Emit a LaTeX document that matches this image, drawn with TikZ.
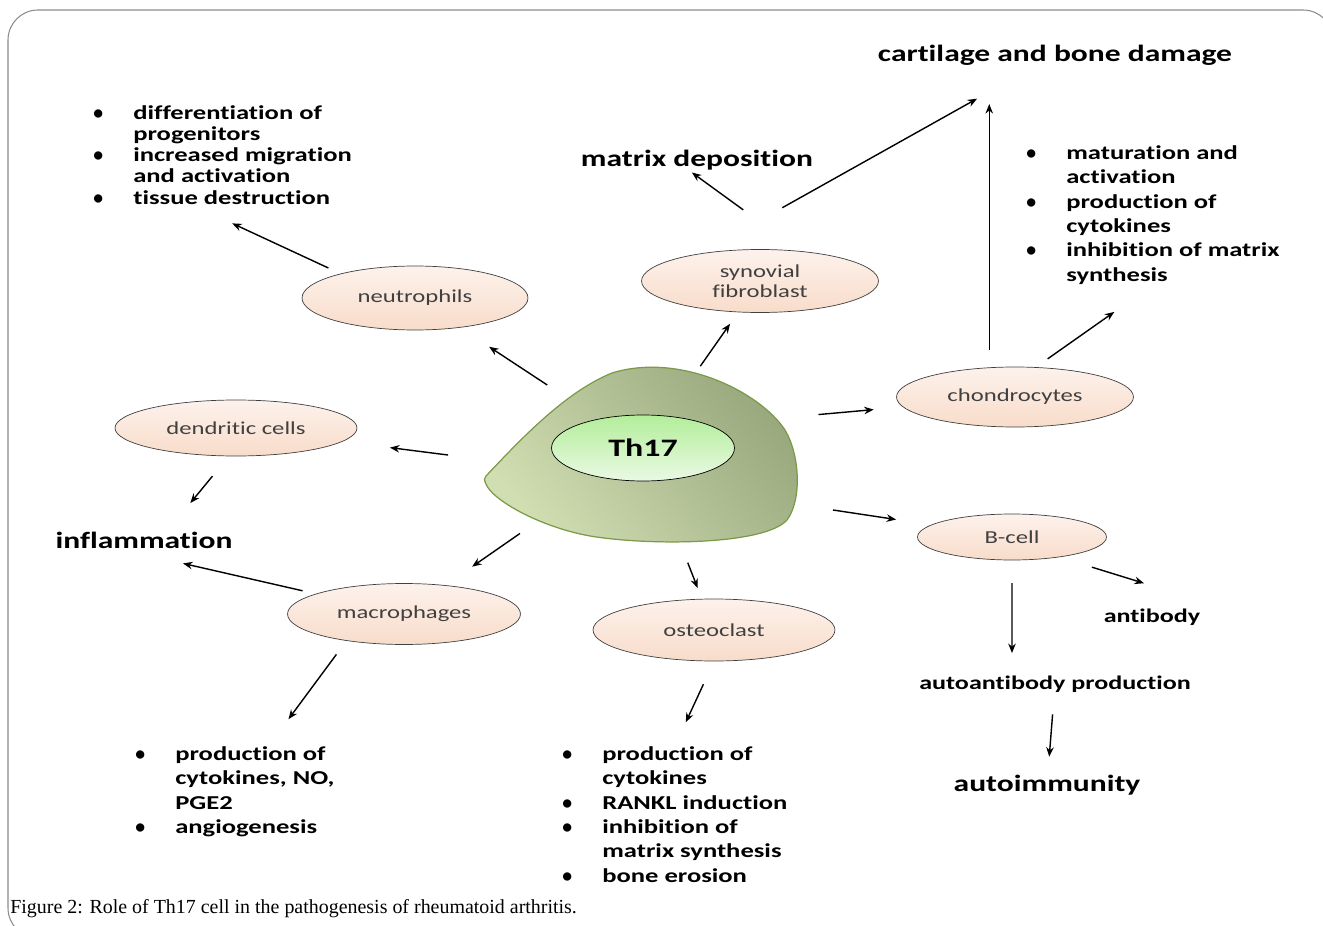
\documentclass[tikz,border=0pt]{standalone}
\usepackage{fontspec}
\setmainfont{Carlito}
\newfontfamily\widefont{Carlito}[FakeStretch=1.35, Ligatures=NoCommon]
\newfontfamily\capfont{Liberation Serif}
\usetikzlibrary{arrows.meta,calc,positioning,shapes.geometric}

\definecolor{peachtop}{HTML}{FDF2EC}
\definecolor{peachbot}{HTML}{F8DCCA}
\definecolor{blobdark}{HTML}{97A77B}
\definecolor{bloblight}{HTML}{D0DEB2}
\definecolor{blobline}{HTML}{7A9A48}
\definecolor{nuctop}{HTML}{B3EE9A}
\definecolor{nucbot}{HTML}{EAF9E4}

\newcommand{\bul}{\makebox[0.8cm][l]{\rmfamily\textbullet}}
\newcommand{\ind}{\hspace*{0.8cm}}

\tikzset{
  cell/.style={ellipse, draw=black!75, thin, top color=peachtop, bottom color=peachbot,
    inner sep=0pt, font=\widefont\fontsize{10.4}{11.5}\selectfont, text=black!75, align=center},
  head/.style={font=\widefont\bfseries\fontsize{13.3}{15}\selectfont},
  effect/.style={font=\widefont\bfseries\fontsize{11}{13}\selectfont},
  bullets/.style={anchor=north west, inner sep=0pt, align=left,
    font=\widefont\bfseries\fontsize{11.2}{13.9}\selectfont},
  arr/.style={-{Stealth[length=0.19cm,width=0.15cm]}, line width=0.8pt}
}

\begin{document}
\begin{tikzpicture}[x=0.02cm, y=-0.02cm]
  \useasboundingbox (0,0) rectangle (1323,926);
  \draw[black!45, line width=0.6pt, rounded corners=0.6cm] (8,10) rectangle (1333,938);

  % Th17 cell
  \draw[blobline, line width=0.7pt, top color=blobdark, bottom color=bloblight, shading angle=-50]
    (486,476) .. controls (520,440) and (565,392) .. (612,373)
    .. controls (680,352) and (760,392) .. (785,430)
    .. controls (800,455) and (802,500) .. (787,520)
    .. controls (765,545) and (650,546) .. (590,536)
    .. controls (540,527) and (492,500) .. (486,484)
    .. controls (484,480) and (484,478) .. (486,476) -- cycle;
  \node[ellipse, draw=black, thin, top color=nuctop, bottom color=nucbot, minimum width=3.66cm,
    minimum height=1.32cm, font=\widefont\bfseries\fontsize{14.3}{16}\selectfont] (th) at (643,448) {Th17};

  % target cells
  \node[cell, minimum width=4.52cm, minimum height=1.28cm] (neut) at (415,298) {neutrophils};
  \node[cell, minimum width=4.74cm, minimum height=1.26cm] (syn) at (760,281) {synovial\\fibroblast};
  \node[cell, minimum width=4.84cm, minimum height=1.12cm] (dend) at (236,428) {dendritic cells};
  \node[cell, minimum width=4.74cm, minimum height=1.20cm] (chon) at (1015,397) {chondrocytes};
  \node[cell, minimum width=3.78cm, minimum height=0.92cm] (bcell) at (1012,537) {B-cell};
  \node[cell, minimum width=4.66cm, minimum height=1.22cm] (macro) at (404,614) {macrophages};
  \node[cell, minimum width=4.84cm, minimum height=1.24cm] (osteo) at (714,630) {osteoclast};

  % outcomes
  \node[head] (cart) at (1055,55) {cartilage and bone damage};
  \node[head] (matrix) at (697,160) {matrix deposition};
  \node[head] (infl) at (144,540) {inflammation};
  \node[head] (autoimm) at (1047,785) {autoimmunity};
  \node[effect] (anti) at (1152,617) {antibody};
  \node[effect] (autoab) at (1055,684) {autoantibody production};

  \node[bullets, font=\widefont\bfseries\fontsize{11.2}{12.1}\selectfont] (neutlist) at (93,105)
    {\bul differentiation of\\ \ind progenitors\\ \bul increased migration\\ \ind and activation\\
     \bul tissue destruction};
  \node[bullets] (chonlist) at (1026,145)
    {\bul maturation and\\ \ind activation\\ \bul production of\\ \ind cytokines\\
     \bul inhibition of matrix\\ \ind synthesis};
  \node[bullets] (macrolist) at (135,746)
    {\bul production of\\ \ind cytokines, NO,\\ \ind PGE2\\ \bul angiogenesis};
  \node[bullets] (osteolist) at (562,746)
    {\bul production of\\ \ind cytokines\\ \bul RANKL induction\\ \bul inhibition of\\
     \ind matrix synthesis\\ \bul bone erosion};

  % connectors
  \draw[arr] ($(th)!.42!(neut)$) -- ($(th)!.675!(neut)$);
  \draw[arr] ($(neut)!.45!(neutlist.south)+(0,12)$) -- ($(neut)!.95!(neutlist.south)+(0,14)$);
  \draw[arr] ($(th)!.49!(syn)$) -- ($(th)!.744!(syn)$);
  \draw[arr] ($(syn.37)!.55!(matrix.south)$) -- ($(syn.37)!1.05!(matrix.south)$);
  \draw[arr] ($(syn.155)!.23!(cart)$) -- ($(syn.155)!.78!(cart)$);
  \draw[arr] ($(chon.131)!.057!(chon.131 |- cart)$) -- ($(chon.131)!.843!(chon.131 |- cart)$);
  \draw[arr] ($(chon.55)!.1!(chonlist.south)$) -- ($(chon.55)!.67!(chonlist.south)$);
  \draw[arr] ($(th.north east)!.36!(chon)$) -- ($(th.north east)!.54!(chon)$);
  \draw[arr] ($(th.south west)!.38!(dend)$) -- ($(th.south west)!.55!(dend)$);
  \draw[arr] ($(dend)!.43!(infl)+(16,0)$) -- ($(dend)!.67!(infl)+(16,0)$);
  \draw[arr] ($(macro)!.39!(infl.south)$) -- ($(macro)!.85!(infl.south)$);
  \draw[arr] ($(th)!.515!(macro)$) -- ($(th)!.715!(macro)$);
  \draw[arr] ($(macro.205)!.09!(macrolist)$) -- ($(macro.205)!.52!(macrolist)$);
  \draw[arr] ($(th)!.63!(osteo)$) -- ($(th)!.77!(osteo)$);
  \draw[arr] ($(osteo.south)!.27!(osteolist.north)$) -- ($(osteo.south)!.72!(osteolist.north)$);
  \draw[arr] ($(th.south)!.515!(bcell)$) -- ($(th.south)!.686!(bcell)$);
  \draw[arr] ($(bcell.337)!.22!(anti.north east)$) -- ($(bcell.337)!.575!(anti.north east)$);
  \draw[arr] ($(bcell.south)!.185!(bcell.south |- autoab)$) -- ($(bcell.south)!.75!(bcell.south |- autoab)$);
  \draw[arr] ($(autoab)!.3!(autoimm)$) -- ($(autoab)!.72!(autoimm)$);

  \node[anchor=base west, inner sep=0pt, font=\capfont\fontsize{11.35}{13}\selectfont] (caption) at (10,913)
    {Figure 2: Role of Th17 cell in the pathogenesis of rheumatoid arthritis.};
\end{tikzpicture}
\end{document}
